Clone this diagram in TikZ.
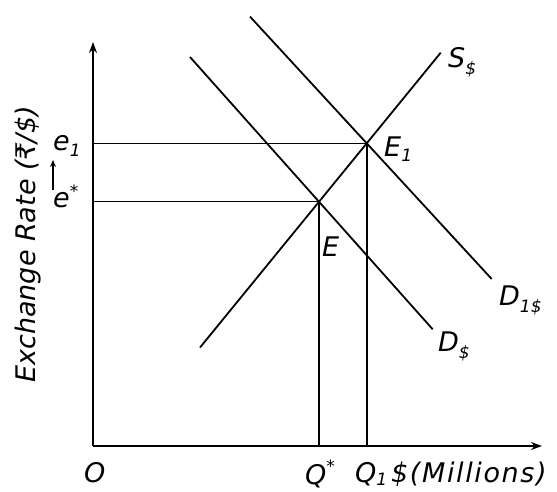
\documentclass[tikz,border=0pt]{standalone}
\usepackage{fontspec}
\setmainfont{DejaVu Sans}
\usetikzlibrary{arrows.meta}
\newcommand{\sbs}[2][-7pt]{\raisebox{#1}{\fontsize{17}{19}\selectfont #2}}
\begin{document}
\begin{tikzpicture}[x=1pt,y=-1pt,
  curve/.style={line width=1.8pt},
  guide/.style={line width=1.8pt},
  axis/.style={line width=1.8pt,-{Stealth[length=11pt,width=8pt]}},
  lbl/.style={font=\fontsize{27}{30}\selectfont\itshape,inner sep=0pt}]
\useasboundingbox (0,0) rectangle (557,491);
% axes
\coordinate (O) at (93,446);
\coordinate (ytop) at (93,42);
\coordinate (xend) at (542,446);
\draw[axis] (O) -- (ytop);
\draw[axis] (O) -- (xend);
% equilibria
\coordinate (E) at (319,201.5);
\coordinate (E1) at (366.7,143.5);
\coordinate (ey) at (93,201.5);
\coordinate (e1y) at (93,143.5);
\coordinate (Ex) at (319,446);
\coordinate (E1x) at (366.7,446);
% curves
\coordinate (Slo) at (200,347.5);
\coordinate (Shi) at (440.7,52.7);
\coordinate (Dhi) at (190,57);
\coordinate (Dlo) at (432.7,329.3);
\coordinate (D1hi) at (250,16.6);
\coordinate (D1lo) at (491.7,279);
\draw[curve] (Slo) -- (Shi);
\draw[curve] (Dhi) -- (Dlo);
\draw[curve] (D1hi) -- (D1lo);
% guides
\draw[guide] (e1y) -- (E1) -- (E1x);
\draw[guide] (ey) -- (E) -- (Ex);
% labels
\node[lbl,anchor=base west] (Slab) at (448,67) {S\sbs{\$}};
\node[lbl,anchor=base west] (E1lab) at (384,156) {E\sbs[-5pt]{1}};
\node[lbl,anchor=base west] (Elab) at (322,256) {E};
\node[lbl,anchor=base west] (D1lab) at (499,305) {D\sbs[-7pt]{1\$}};
\node[lbl,anchor=base west] (Dlab) at (438,351) {D\sbs{\$}};
\node[lbl,anchor=base west] (Olab) at (84,482) {O};
\node[lbl,anchor=base west] (Qs) at (305,484) {Q\sbs[12pt]{*}};
\node[lbl,anchor=base west] (Q1) at (355,482) {Q\sbs[-3pt]{1}};
\node[lbl,anchor=base west] (mill) at (391,482) {\addfontfeatures{LetterSpace=6}\$(Millions)};
\node[lbl,anchor=base west] (e1lab) at (53,150) {e\sbs[-6pt]{1}};
\node[lbl,anchor=base west] (eslab) at (53,207) {e\sbs[10pt]{*}};
\coordinate (arlo) at (53,190);
\coordinate (arhi) at (53,160);
\draw[line width=1.4pt,-{Stealth[length=7pt,width=6pt]}] (arlo) -- (arhi);
\node[lbl,rotate=90,anchor=base west] (ylab) at (35,383) {Exchange Rate (₹/\$)};
\end{tikzpicture}
\end{document}
